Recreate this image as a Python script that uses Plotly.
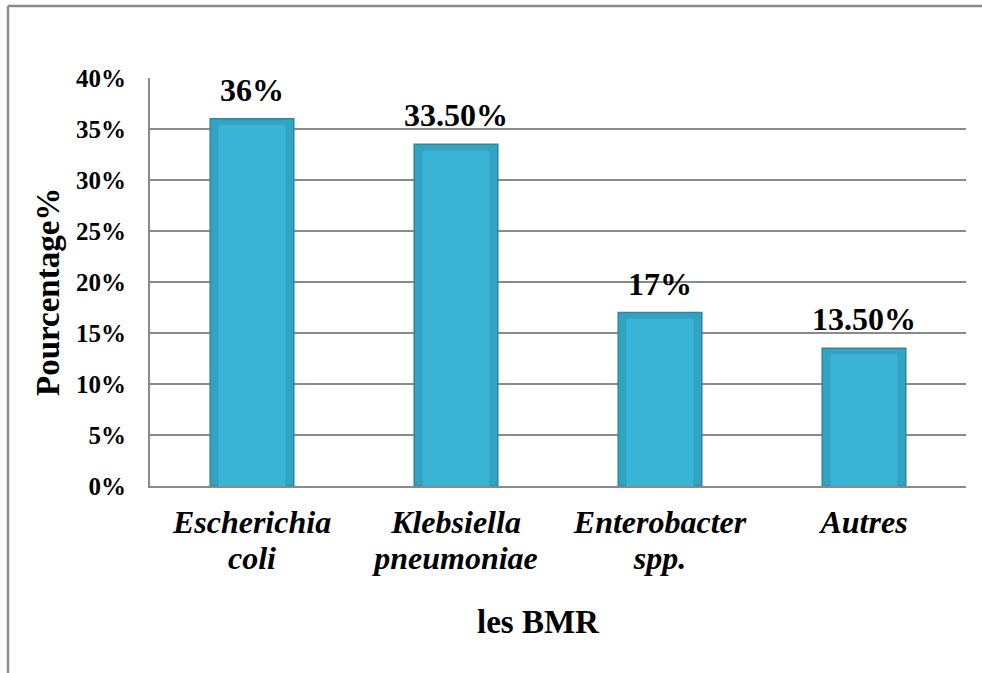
import plotly.graph_objects as go

cat_lines = [["Escherichia", "coli"], ["Klebsiella", "pneumoniae"],
             ["Enterobacter", "spp."], ["Autres"]]
values = [0.36, 0.335, 0.17, 0.135]
value_labels = ["36%", "33.50%", "17%", "13.50%"]
y_ticks = [0, 0.05, 0.10, 0.15, 0.20, 0.25, 0.30, 0.35, 0.40]
y_tick_labels = ["0%", "5%", "10%", "15%", "20%", "25%", "30%", "35%", "40%"]
x_title = "les BMR"
y_title = "Pourcentage%"

W, H = 982, 673
L, R, T, B = 150, 16, 78, 187
pw, ph = W - L - R, H - T - B

font = "Liberation Serif, Times New Roman, serif"

categories = ["<br>".join(lines) for lines in cat_lines]
cat_text = ["<br>".join('<span style="font-size:32px"><b><i>%s</i></b></span>' % s for s in lines)
            for lines in cat_lines]


def px_x(x):
    return (x - L) / pw


def px_y(y):
    return (T + ph - y) / ph


fig = go.Figure()
fig.add_trace(go.Bar(
    x=categories, y=values, width=0.41,
    marker=dict(color="#32A3C3", line=dict(color="#2A88A3", width=1.5)),
    hoverinfo="skip",
))
# lighter inner face to mimic bevel
fig.add_trace(go.Bar(
    x=categories, y=[v - 0.006 for v in values], width=0.33,
    marker=dict(color="#3AB4D6", line=dict(width=0)),
    hoverinfo="skip",
))

for c, v, t in zip(categories, values, value_labels):
    fig.add_annotation(x=c, y=v, text="<b>%s</b>" % t, showarrow=False,
                       yanchor="bottom", yshift=9,
                       font=dict(family=font, size=32, color="black"))

fig.add_annotation(x=px_x(538), y=px_y(622), xref="paper", yref="paper",
                   text="<b>%s</b>" % x_title, showarrow=False,
                   xanchor="center", yanchor="middle",
                   font=dict(family=font, size=33, color="black"))
fig.add_annotation(x=px_x(48), y=px_y(292), xref="paper", yref="paper",
                   text="<b>%s</b>" % y_title, showarrow=False, textangle=-90,
                   xanchor="center", yanchor="middle",
                   font=dict(family=font, size=33, color="black"))

# outer chart border (top and left)
fig.add_shape(type="line", xref="paper", yref="paper",
              x0=px_x(8), x1=px_x(990), y0=px_y(6), y1=px_y(6),
              line=dict(color="#8A8A8A", width=2.5))
fig.add_shape(type="line", xref="paper", yref="paper",
              x0=px_x(8), x1=px_x(8), y0=px_y(6), y1=px_y(690),
              line=dict(color="#8A8A8A", width=2.5))

fig.update_layout(
    width=W, height=H, margin=dict(l=L, r=R, t=T, b=B, pad=0),
    paper_bgcolor="white", plot_bgcolor="white", showlegend=False,
    barmode="overlay", bargap=0.59,
    font=dict(family=font, color="black"),
)
fig.update_xaxes(
    tickvals=categories, ticktext=cat_text,
    showgrid=False, showline=True, linecolor="#8A8A8A", linewidth=2,
    ticks="outside", ticklen=11, tickcolor="rgba(0,0,0,0)",
    tickfont=dict(family=font, size=28, color="black"),
)
fig.update_yaxes(
    range=[0, 0.40], tickvals=y_ticks, ticktext=["<b>%s</b>" % t for t in y_tick_labels],
    showgrid=True, gridcolor="#8A8A8A", gridwidth=2,
    showline=True, linecolor="#8A8A8A", linewidth=2,
    zeroline=False,
    ticks="outside", ticklen=17, tickcolor="rgba(0,0,0,0)",
    tickfont=dict(family=font, size=25, color="black"),
)

fig.write_html("out.html")
